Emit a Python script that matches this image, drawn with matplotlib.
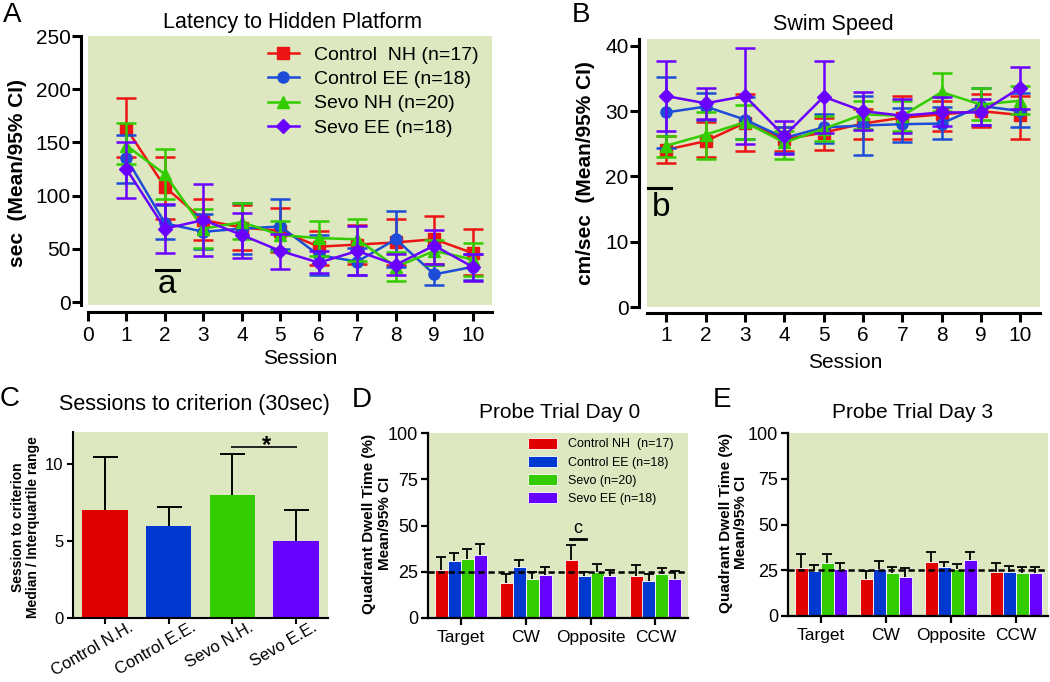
import matplotlib.pyplot as plt
import numpy as np
from matplotlib import font_manager

installed = {f.name for f in font_manager.fontManager.ttflist}
narrow = 'Liberation Sans Narrow' if 'Liberation Sans Narrow' in installed else 'Liberation Sans'

plt.rcParams['font.family'] = ['Liberation Sans', 'DejaVu Sans']

bg = '#dde8c0'
colors = ['#ec1414', '#1c4cd8', '#33cc00', '#6a00ff']
bar_colors = ['#e00000', '#0038d0', '#33cc00', '#6600ff']
markers = ['s', 'o', '^', 'D']

sessions = np.arange(1, 11)
groups = ['Control  NH (n=17)', 'Control EE (n=18)', 'Sevo NH (n=20)', 'Sevo EE (n=18)']

# A - latency to hidden platform (sec), mean and 95% CI limits
lat_mean = [[163, 108, 77, 70, 67, 52, 54, 56, 59, 46],
            [135, 74, 66, 69, 71, 44, 38, 59, 26, 33],
            [147, 120, 69, 75, 63, 60, 59, 33, 48, 40],
            [125, 69, 77, 63, 48, 37, 48, 35, 53, 33]]
lat_lo = [[136, 78, 58, 49, 47, 35, 36, 35, 36, 25],
          [112, 59, 50, 45, 50, 25, 25, 33, 16, 21],
          [130, 97, 51, 59, 48, 43, 39, 20, 35, 24],
          [98, 46, 43, 41, 31, 27, 25, 25, 36, 20]]
lat_hi = [[192, 136, 97, 91, 88, 67, 72, 78, 81, 69],
          [157, 91, 83, 93, 97, 63, 51, 86, 35, 45],
          [168, 144, 87, 93, 76, 76, 78, 47, 58, 55],
          [150, 92, 111, 84, 64, 48, 71, 45, 68, 45]]

# B - swim speed (cm/sec)
spd_mean = [[24.1, 25.4, 28.2, 25.7, 26.7, 28.1, 29.0, 29.5, 30.0, 29.4],
            [29.8, 30.7, 28.7, 25.9, 27.5, 27.8, 28.0, 28.1, 30.8, 30.0],
            [24.7, 26.4, 28.3, 25.2, 27.3, 29.5, 29.3, 32.9, 31.0, 31.6],
            [32.3, 31.2, 32.3, 26.2, 32.2, 30.0, 29.3, 29.8, 29.8, 33.6]]
spd_lo = [[22.0, 23.0, 23.9, 23.9, 24.0, 25.8, 25.7, 27.0, 27.5, 25.8],
          [24.4, 28.7, 25.7, 23.6, 25.1, 23.3, 25.3, 25.8, 27.8, 27.5],
          [22.9, 22.7, 25.7, 22.7, 25.4, 27.2, 27.0, 30.0, 28.7, 29.5],
          [27.0, 28.8, 24.9, 23.5, 26.7, 27.1, 26.7, 27.7, 27.8, 30.3]]
spd_hi = [[26.2, 28.3, 32.6, 27.5, 29.0, 30.3, 32.3, 31.6, 32.6, 32.3],
          [35.2, 32.7, 32.1, 27.5, 29.5, 32.3, 30.5, 30.7, 33.5, 32.7],
          [26.2, 29.8, 31.0, 27.0, 29.3, 31.6, 31.6, 35.8, 33.5, 33.8],
          [37.6, 33.6, 39.7, 28.5, 37.7, 32.9, 31.9, 32.1, 31.9, 36.8]]

# C - sessions to criterion, median and upper quartile
crit_labels = ['Control N.H.', 'Control E.E.', 'Sevo N.H.', 'Sevo E.E.']
crit_median = [7, 6, 8, 5]
crit_q3 = [10.5, 7.2, 10.7, 7.0]

# D / E - quadrant dwell time (%)
quadrants = ['Target', 'CW', 'Opposite', 'CCW']
probe_groups = ['Control NH  (n=17)', 'Control EE (n=18)', 'Sevo (n=20)', 'Sevo EE (n=18)']
day0_mean = [[26.2, 19.0, 31.6, 22.6],
             [30.7, 27.7, 22.6, 20.0],
             [32.0, 21.2, 25.0, 23.7],
             [34.0, 23.1, 22.6, 21.2]]
day0_hi = [[33.1, 23.7, 39.4, 28.4],
           [34.9, 31.3, 25.1, 24.0],
           [37.4, 25.0, 29.1, 27.1],
           [40.0, 27.3, 26.2, 25.3]]
day3_mean = [[26.1, 20.1, 29.4, 23.9],
             [24.6, 25.7, 27.0, 23.9],
             [28.8, 23.7, 25.5, 23.4],
             [25.5, 21.5, 30.7, 23.4]]
day3_hi = [[33.8, 24.8, 34.9, 28.8],
           [27.6, 30.3, 29.7, 27.2],
           [33.8, 26.6, 28.5, 26.6],
           [29.2, 26.1, 35.2, 27.0]]
chance = 25

W, H = 1050, 682
fig = plt.figure(figsize=(W / 100, H / 100), dpi=100)


def prism_axes(ax, lw, offset=0):
    ax.set_facecolor(bg)
    for s in ['top', 'right']:
        ax.spines[s].set_visible(False)
    for s in ['left', 'bottom']:
        ax.spines[s].set_linewidth(lw)
        if offset:
            ax.spines[s].set_position(('outward', offset))


def line_panel(ax, means, los, his):
    for i in range(4):
        m = np.array(means[i])
        lo = np.array(los[i])
        hi = np.array(his[i])
        ax.errorbar(sessions, m, yerr=[m - lo, hi - m], fmt='none', ecolor=colors[i],
                    elinewidth=1.8, capsize=7.5, capthick=1.8, zorder=2 + i)
        ax.plot(sessions, m, color=colors[i], marker=markers[i], ms=8 if i != 3 else 7.5,
                lw=1.8, label=groups[i], zorder=2 + i)


# ---- A ----
axA = fig.add_axes([88 / W, 1 - 305 / H, 404 / W, 269 / H])
prism_axes(axA, 2.2, offset=5)
line_panel(axA, lat_mean, lat_lo, lat_hi)
axA.set_xlim(0, 10.5)
axA.set_ylim(-2.8, 250)
axA.set_xticks(range(0, 11))
axA.set_yticks(range(0, 251, 50))
axA.tick_params(axis='both', labelsize=15, width=2.2, length=6.5, direction='out')
axA.tick_params(axis='y', pad=1)
axA.set_title('Latency to Hidden Platform', fontsize=15.5, pad=6, x=0.505)
axA.set_ylabel('sec  (Mean/95% CI)', fontsize=15, fontweight='bold')
axA.yaxis.set_label_coords(-0.151, 0.49)
axA.set_xlabel('Session', fontsize=15)
axA.xaxis.set_label_coords(0.525, -0.165)
axA.plot([1.77, 2.36], [30, 30], color='black', lw=2.2)
axA.text(2.06, 16, 'a', fontsize=24, ha='center', va='center')
axA.legend(loc='upper left', bbox_to_anchor=(0.445, 0.963), frameon=False, fontsize=14,
           handlelength=1.6, handletextpad=0.8, labelspacing=0.35, borderpad=0, borderaxespad=0)

# ---- B ----
axB = fig.add_axes([646.7 / W, 1 - 307 / H, 393.3 / W, 267.7 / H])
prism_axes(axB, 2.2)
axB.spines['left'].set_position(('outward', 5.5))
axB.spines['bottom'].set_position(('outward', 4))
line_panel(axB, spd_mean, spd_lo, spd_hi)
axB.set_xlim(0.5, 10.5)
axB.set_ylim(0, 41)
axB.set_xticks(sessions)
axB.set_yticks(range(0, 41, 10))
axB.tick_params(axis='both', labelsize=15, width=2.2, length=6.5, direction='out')
axB.tick_params(axis='y', pad=1)
axB.set_title('Swim Speed', fontsize=15.5, pad=7, x=0.474)
axB.set_ylabel('cm/sec  (Mean/95% CI)', fontsize=15, fontweight='bold')
axB.yaxis.set_label_coords(-0.131, 0.5)
axB.set_xlabel('Session', fontsize=15)
axB.xaxis.set_label_coords(0.504, -0.17)
axB.plot([0.53, 1.13], [18.25, 18.25], color='black', lw=2.2)
axB.text(0.86, 15.2, 'b', fontsize=24, ha='center', va='center')

# ---- C ----
axC = fig.add_axes([73 / W, 1 - 618 / H, 255 / W, 186 / H])
prism_axes(axC, 1.5)
xc = np.arange(len(crit_labels))
axC.bar(xc, crit_median, width=0.71, color=bar_colors, zorder=2)
axC.vlines(xc, crit_median, crit_q3, color='black', lw=1.4, zorder=3)
axC.plot(xc, crit_q3, ls='none', marker='_', ms=18, mew=1.4, color='black', zorder=3)
axC.set_xlim(-0.5, 3.5)
axC.set_ylim(0, 12.1)
axC.set_yticks([0, 5, 10])
axC.set_xticks(xc)
axC.set_xticklabels([])
# rotated category labels, sitting a little left of their ticks as in the original
for x, lab in zip(xc, crit_labels):
    axC.annotate(lab, xy=(x, 0), xycoords=('data', 'axes fraction'), xytext=(-9, -1.5),
                 textcoords='offset points', rotation=30, ha='center', va='top', fontsize=12)
axC.tick_params(axis='both', width=1.5, length=4, direction='out')
axC.tick_params(axis='y', labelsize=12, pad=3)
axC.set_title('Sessions to criterion (30sec)', fontsize=15.5, pad=16, x=0.478)
axC.set_ylabel('Session to criterion\nMedian / Interquartile range', fontsize=10, fontweight='bold',
               linespacing=1.1)
axC.yaxis.set_label_coords(-0.129, 0.49)
axC.plot([2, 3], [11.15, 11.15], color='#222222', lw=1.4)
axC.text(2.53, 11.2, '*', fontsize=17, fontweight='bold', ha='center', va='center')


# ---- D / E ----
def probe_panel(ax, means, highs, title, title_x):
    prism_axes(ax, 1.6)
    xq = np.arange(len(quadrants))
    for i in range(4):
        xi = xq + (i - 1.5) * 0.2
        ax.bar(xi, means[i], width=0.2, color=bar_colors[i], edgecolor='white', linewidth=0.6,
               zorder=2, label=probe_groups[i])
        ax.vlines(xi, means[i], highs[i], color='black', lw=1.3, zorder=3)
        ax.plot(xi, highs[i], ls='none', marker='_', ms=7, mew=1.3, color='black', zorder=3)
    ax.axhline(chance, color='black', lw=1.8, dashes=(2.5, 1.5), zorder=4)
    ax.set_xlim(-0.5, 3.5)
    ax.set_ylim(0, 100)
    ax.set_yticks([0, 25, 50, 75, 100])
    ax.set_xticks(xq)
    ax.set_xticklabels(quadrants, fontsize=12.5)
    ax.tick_params(axis='both', width=1.6, length=5, direction='out')
    ax.tick_params(axis='y', labelsize=13, pad=2)
    ax.set_title(title, fontsize=15, pad=11, x=title_x)
    ax.set_ylabel('Quadrant Dwell Time (%)\nMean/95% CI', fontsize=11, fontweight='bold',
                  linespacing=1.1)


axD = fig.add_axes([428 / W, 1 - 618 / H, 260 / W, 185 / H])
probe_panel(axD, day0_mean, day0_hi, 'Probe Trial Day 0', 0.508)
axD.yaxis.set_label_coords(-0.14, 0.51)
axD.plot([1.68, 1.93], [42.7, 42.7], color='black', lw=2)
axD.text(1.80, 48.5, 'c', fontsize=13, ha='center', va='center')
axD.legend(loc='upper left', bbox_to_anchor=(0.385, 0.975), frameon=False,
           prop={'family': narrow, 'size': 10.5 if narrow != 'Liberation Sans' else 9},
           handlelength=2.3, handleheight=1.0, handletextpad=0.9, labelspacing=0.42,
           borderpad=0, borderaxespad=0)

axE = fig.add_axes([788 / W, 1 - 616 / H, 260 / W, 183 / H])
probe_panel(axE, day3_mean, day3_hi, 'Probe Trial Day 3', 0.48)
axE.yaxis.set_label_coords(-0.154, 0.51)

# panel letters
for lab, x, y in [('A', 3, 2), ('B', 572, 2), ('C', 0, 386), ('D', 352, 387), ('E', 713, 387)]:
    fig.text(x / W, 1 - y / H, lab, fontsize=20, ha='left', va='top')

fig.savefig('out.png', dpi=100)
